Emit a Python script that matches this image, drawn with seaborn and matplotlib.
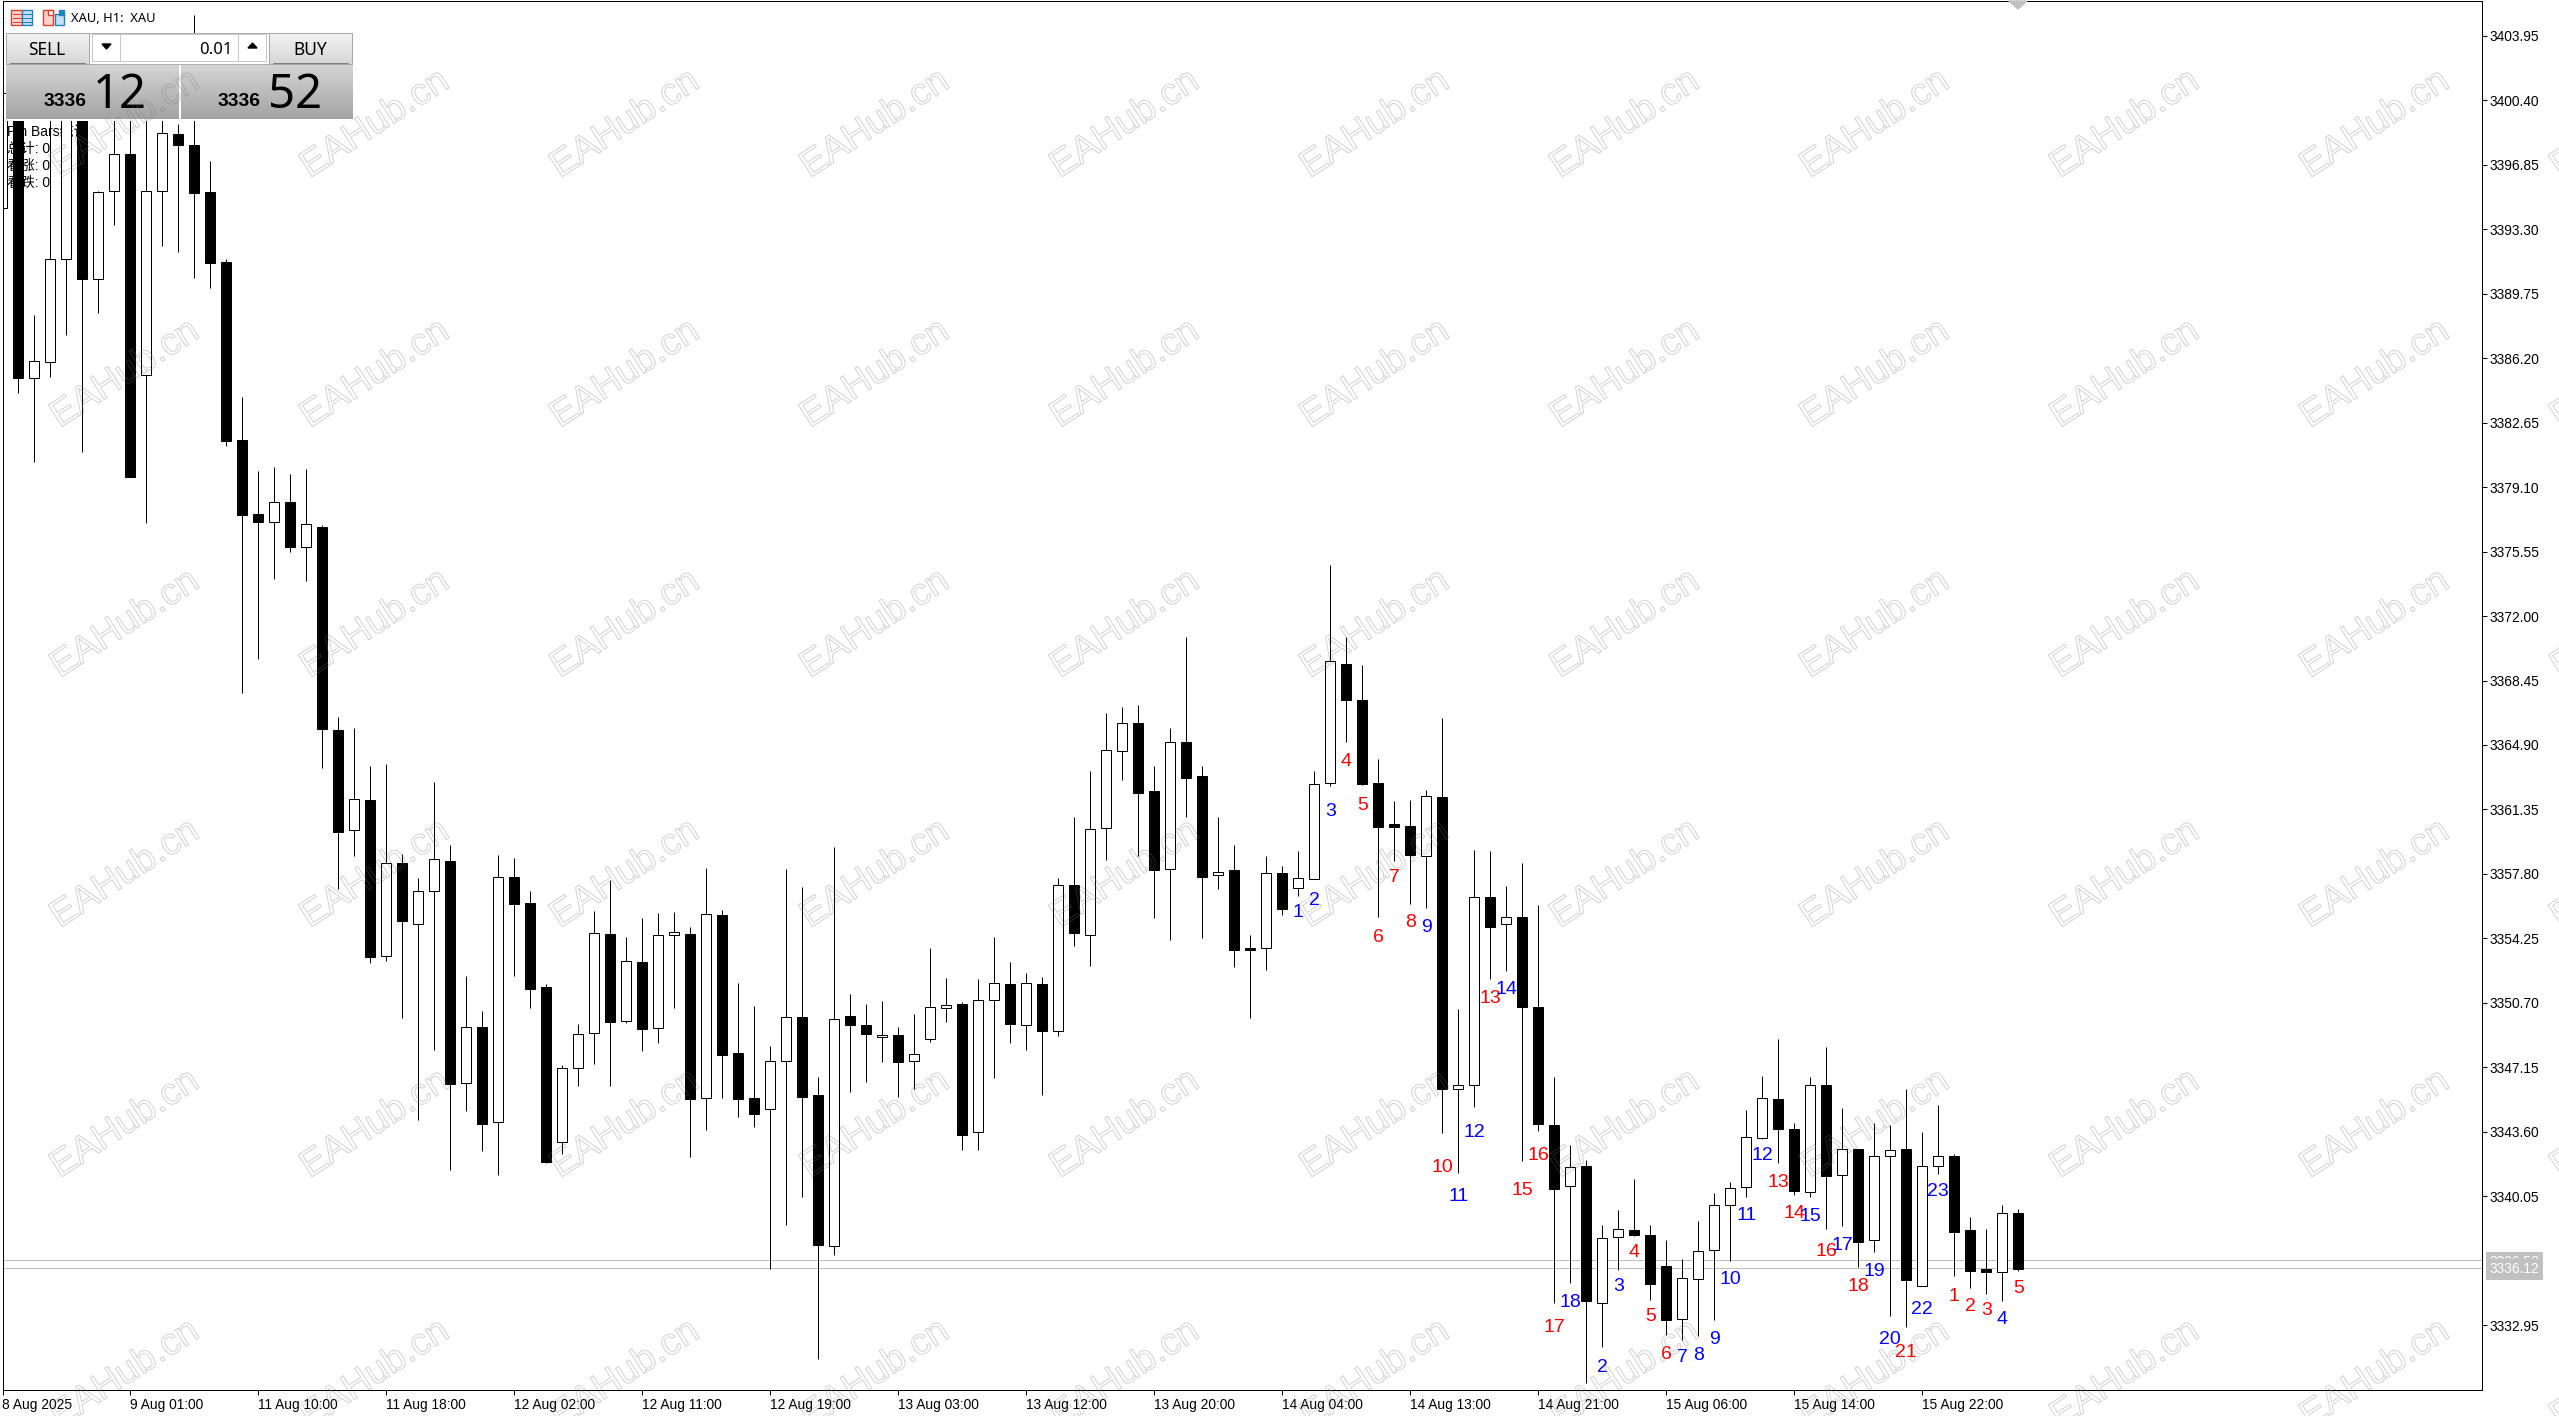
import numpy as np
import pandas as pd
import matplotlib
matplotlib.use("Agg")
import matplotlib.pyplot as plt
import matplotlib.patheffects as pe
from matplotlib.patches import Rectangle
import seaborn as sns

# H1 candles, oldest first, values
opens = [3394.47, 3400.41, 3385.09, 3386.01, 3391.64, 3399.86, 3390.58, 3395.39, 3397.44, 3385.29,
         3395.39, 3398.54, 3397.94, 3395.33, 3391.48, 3381.68, 3377.60, 3377.16, 3378.26, 3375.79,
         3376.90, 3365.73, 3360.21, 3361.87, 3353.27, 3358.41, 3355.06, 3356.85, 3358.52, 3346.28,
         3349.38, 3344.13, 3357.64, 3356.20, 3351.58, 3343.02, 3347.10, 3349.03, 3354.50, 3349.69,
         3352.96, 3349.30, 3354.43, 3354.52, 3345.45, 3355.54, 3347.94, 3345.45, 3344.84, 3347.49,
         3349.93, 3345.63, 3337.34, 3349.98, 3349.46, 3348.85, 3348.91, 3347.49, 3348.74, 3350.41,
         3350.63, 3343.57, 3350.88, 3351.75, 3349.50, 3351.74, 3349.14, 3357.18, 3354.43, 3360.32,
         3364.56, 3366.10, 3362.35, 3358.06, 3365.05, 3363.18, 3357.76, 3358.00, 3353.71, 3353.71,
         3357.84, 3357.01, 3357.51, 3362.79, 3369.35, 3367.36, 3362.79, 3360.55, 3360.44, 3358.77,
         3362.04, 3345.95, 3346.17, 3356.52, 3355.03, 3355.42, 3350.48, 3343.96, 3340.61, 3341.72,
         3334.17, 3337.80, 3338.20, 3337.92, 3336.22, 3333.32, 3335.49, 3337.08, 3339.56, 3340.55,
         3343.29, 3345.40, 3343.74, 3340.31, 3346.17, 3341.21, 3342.64, 3337.63, 3342.26, 3342.64,
         3335.10, 3341.71, 3342.26, 3338.18, 3336.05, 3335.90, 3339.12]
closes = [3400.80, 3385.13, 3386.06, 3391.64, 3399.86, 3390.58, 3395.33, 3397.42, 3379.67, 3395.39,
          3398.58, 3397.95, 3395.31, 3391.46, 3381.66, 3377.58, 3377.20, 3378.26, 3375.82, 3377.09,
          3365.80, 3360.13, 3361.91, 3353.25, 3358.39, 3355.23, 3356.85, 3358.61, 3346.25, 3349.36,
          3344.05, 3357.62, 3356.17, 3351.49, 3341.96, 3347.09, 3348.97, 3354.54, 3349.67, 3352.99,
          3349.28, 3354.43, 3354.59, 3345.43, 3355.58, 3347.85, 3345.43, 3344.60, 3347.48, 3349.91,
          3345.54, 3337.39, 3349.80, 3349.46, 3349.00, 3348.96, 3347.47, 3347.90, 3350.45, 3350.56,
          3343.44, 3350.84, 3351.77, 3349.54, 3351.77, 3349.17, 3357.18, 3354.57, 3360.26, 3364.61,
          3366.10, 3362.28, 3358.04, 3365.05, 3363.10, 3357.65, 3357.89, 3353.63, 3353.63, 3357.84,
          3355.89, 3357.56, 3362.74, 3369.51, 3367.40, 3362.77, 3360.37, 3360.40, 3358.86, 3362.08,
          3345.98, 3346.17, 3356.52, 3354.90, 3355.42, 3350.49, 3344.05, 3340.47, 3341.65, 3334.31,
          3337.74, 3338.24, 3337.94, 3335.24, 3333.26, 3335.54, 3337.03, 3339.56, 3340.50, 3343.30,
          3345.45, 3343.78, 3340.36, 3346.17, 3341.19, 3342.64, 3337.56, 3342.26, 3342.59, 3335.46,
          3341.71, 3342.26, 3338.11, 3335.96, 3335.90, 3339.12, 3336.07]
highs = [3401.79, 3400.69, 3388.58, 3399.86, 3400.41, 3400.41, 3395.42, 3399.86, 3399.86, 3399.86,
         3399.86, 3399.09, 3405.09, 3397.06, 3391.66, 3384.06, 3379.99, 3380.19, 3379.82, 3380.10,
         3377.02, 3366.43, 3365.82, 3363.75, 3363.86, 3358.88, 3357.58, 3362.85, 3359.40, 3352.18,
         3350.26, 3358.85, 3358.68, 3356.85, 3351.73, 3347.28, 3349.54, 3355.76, 3357.47, 3354.33,
         3355.36, 3355.65, 3355.71, 3354.87, 3358.13, 3355.82, 3351.80, 3350.53, 3348.33, 3358.05,
         3357.08, 3346.60, 3359.29, 3351.19, 3350.64, 3350.81, 3349.38, 3350.09, 3353.70, 3352.07,
         3350.73, 3351.99, 3354.33, 3352.96, 3352.36, 3352.13, 3357.56, 3360.94, 3363.47, 3366.66,
         3366.98, 3367.11, 3363.75, 3365.82, 3370.83, 3363.75, 3360.94, 3359.40, 3354.44, 3358.77,
         3358.22, 3359.07, 3363.47, 3374.81, 3370.83, 3369.31, 3364.12, 3361.80, 3361.86, 3362.41,
         3366.37, 3350.37, 3359.12, 3359.07, 3357.14, 3358.41, 3356.09, 3346.61, 3342.86, 3342.05,
         3338.48, 3339.30, 3341.01, 3338.48, 3337.65, 3336.60, 3338.70, 3340.24, 3340.83, 3344.81,
         3346.68, 3348.70, 3344.07, 3346.61, 3348.26, 3344.90, 3342.64, 3344.07, 3343.96, 3345.96,
         3343.60, 3345.08, 3342.37, 3338.90, 3338.26, 3339.56, 3339.34]
lows = [3394.47, 3384.30, 3380.50, 3385.18, 3387.48, 3381.05, 3388.67, 3393.53, 3379.67, 3377.11,
        3392.39, 3392.06, 3390.63, 3390.08, 3381.38, 3367.74, 3369.64, 3374.04, 3375.54, 3373.95,
        3363.65, 3356.99, 3358.81, 3352.88, 3353.03, 3349.89, 3344.26, 3348.11, 3341.50, 3344.77,
        3342.56, 3341.23, 3352.20, 3350.44, 3341.89, 3342.38, 3346.14, 3347.36, 3346.14, 3349.61,
        3348.07, 3348.51, 3350.44, 3342.23, 3343.71, 3345.48, 3344.44, 3343.89, 3336.03, 3338.48,
        3340.02, 3331.10, 3336.82, 3345.82, 3346.37, 3347.47, 3345.54, 3345.97, 3348.57, 3349.65,
        3342.62, 3342.62, 3346.57, 3348.51, 3348.12, 3345.65, 3348.90, 3353.85, 3352.75, 3358.59,
        3362.99, 3358.81, 3355.39, 3354.18, 3360.94, 3354.29, 3356.99, 3352.70, 3349.89, 3352.53,
        3355.56, 3356.61, 3357.51, 3362.66, 3365.08, 3362.72, 3355.45, 3358.53, 3356.17, 3355.94,
        3343.56, 3341.35, 3344.99, 3352.04, 3352.48, 3342.02, 3343.67, 3334.20, 3335.30, 3329.76,
        3331.78, 3336.00, 3337.89, 3334.35, 3332.42, 3332.14, 3332.38, 3333.24, 3336.51, 3340.03,
        3343.23, 3341.91, 3340.13, 3340.03, 3338.27, 3338.44, 3336.18, 3337.00, 3333.48, 3332.88,
        3335.10, 3341.30, 3335.68, 3335.02, 3334.69, 3334.31, 3335.96]

# numbers the indicator prints under the bars
count_bar = [81, 82, 83, 84, 85, 86, 87, 88, 89, 90, 91, 92, 93, 94, 95, 96, 97, 98,
             100, 101, 102, 103, 104, 105, 106, 107, 108, 109, 110, 111, 112, 113, 114, 115,
             116, 117, 118, 119, 120, 121, 122, 123, 124, 125, 126]
count_text = [1, 2, 3, 4, 5, 6, 7, 8, 9, 10, 11, 12, 13, 14, 15, 16, 17, 18,
              2, 3, 4, 5, 6, 7, 8, 9, 10, 11, 12, 13, 14, 15, 16, 17,
              18, 19, 20, 21, 22, 23, 1, 2, 3, 4, 5]
count_price = [3355.89, 3356.55, 3361.45, 3364.17, 3361.78, 3354.48, 3357.78, 3355.31, 3355.03,
               3341.80, 3340.25, 3343.74, 3351.12, 3351.65, 3340.58, 3342.46, 3332.99, 3334.39,
               3330.84, 3335.26, 3337.14, 3333.61, 3331.55, 3331.37, 3331.45, 3332.35, 3335.68,
               3339.21, 3342.46, 3341.01, 3339.30, 3339.12, 3337.21, 3337.54, 3335.30, 3336.09,
               3332.38, 3331.65, 3334.03, 3340.53, 3334.75, 3334.20, 3333.94, 3333.46, 3335.17]
count_color = list("bbbrrrrrb" "rbbrbrrrb" "bbrrrbbbb" "bbrrbrbr" "bbrbbrrrbr")

price_ticks = [3403.95, 3400.40, 3396.85, 3393.30, 3389.75, 3386.20, 3382.65, 3379.10, 3375.55, 3372.00,
               3368.45, 3364.90, 3361.35, 3357.80, 3354.25, 3350.70, 3347.15, 3343.60, 3340.05, 3332.95]
time_labels = ["8 Aug 2025", "9 Aug 01:00", "11 Aug 10:00", "11 Aug 18:00", "12 Aug 02:00", "12 Aug 11:00",
               "12 Aug 19:00", "13 Aug 03:00", "13 Aug 12:00", "13 Aug 20:00", "14 Aug 04:00", "14 Aug 13:00",
               "14 Aug 21:00", "15 Aug 06:00", "15 Aug 14:00", "15 Aug 22:00"]
time_step = 8
bid = 3336.12
ask = 3336.52
W, H = 2559, 1416
BLUE = "#0000FF"
RED = "#FF0000"
GREY = "#C0C0C0"

sns.set_theme(style="white")
plt.rcParams["font.family"] = ["Liberation Sans", "Noto Sans CJK SC", "DejaVu Sans"]

df = pd.DataFrame({"bar": np.arange(len(opens)), "open": opens, "high": highs, "low": lows, "close": closes})
df["body_low"] = df[["open", "close"]].min(axis=1)
df["body"] = (df["open"] - df["close"]).abs()
falling = df[df["close"] < df["open"]]
rising = df[df["close"] >= df["open"]]

fig = plt.figure(figsize=(W / 100, H / 100), dpi=100, facecolor="white")
ax = fig.add_axes([2.5 / W, 1 - 1390 / H, (2482 - 2.5) / W, (1390 - 1) / H], facecolor="none")
ui = fig.add_axes([0, 0, 1, 1], zorder=5, facecolor="none")

line_px = 0.72
ax.hlines([ask, bid], 0, 1, transform=ax.get_yaxis_transform(), color=GREY, linewidth=line_px, zorder=0.5)
ax.vlines(df["bar"], df["low"], df["high"], color="black", linewidth=line_px, zorder=0.9)
for part, colour in [(falling, "black"), (rising, "white")]:
    sns.barplot(data=part, x="bar", y="body", bottom=part["body_low"].to_numpy(), ax=ax, native_scale=True,
                color=colour, saturation=1, width=0.625, errorbar=None, edgecolor="black",
                linewidth=line_px, zorder=1)

for bar, text, price, c in zip(count_bar, count_text, count_price, count_color):
    ax.annotate(str(text), (bar, price), xytext=(0, -1), textcoords="offset points",
                color=BLUE if c == "b" else RED, fontsize=14,
                ha="center", va="center_baseline", zorder=3)

ax.set_xlim(0.0125, 154.98)
ax.set_ylim(3329.39, 3405.86)
ax.set_xlabel("")
ax.set_ylabel("")
ax.yaxis.tick_right()
ax.set_yticks(price_ticks)
ax.set_yticklabels(["%.2f" % p for p in price_ticks])
ax.set_xticks(range(0, time_step * len(time_labels), time_step))
ax.set_xticklabels(time_labels, ha="left")
ax.tick_params(axis="both", direction="out", length=3.6, width=line_px, labelsize=9.9, pad=1.5,
               color="black", labelcolor="black", bottom=True, right=True, left=False, top=False)
ax.tick_params(axis="x", pad=2.3)
for spine in ax.spines.values():
    spine.set_visible(True)
    spine.set_color("black")
    spine.set_linewidth(line_px)

# price tags on the scale, bid drawn over ask
for price in [ask, bid]:
    ax.text(1.0031, price, "%.2f" % price, transform=ax.get_yaxis_transform(), color="white", fontsize=9.9,
            ha="left", va="center_baseline", clip_on=False, zorder=6,
            bbox=dict(facecolor=GREY, edgecolor="none", pad=2.4))

# indicator panel text sits under the candles
info_lines = ["Pin Bars统计", "总计: 0", "看涨: 0", "看跌: 0"]
info_y = [132, 149, 166, 183]
for line, y in zip(info_lines, info_y):
    ax.text(7, y, line, transform=ui.transData, fontsize=10, color="black", va="center", ha="left", zorder=0.6)


def box(x0, y0, x1, y1, fc="white", ec="none", lw=0.72, z=1):
    ui.add_patch(Rectangle((x0, y0), x1 - x0, y1 - y0, facecolor=fc, edgecolor=ec, linewidth=lw, zorder=z))


def gradient(x0, y0, x1, y1, top, bottom):
    shades = np.linspace(top, bottom, 40).reshape(-1, 1)
    ui.imshow(shades, cmap="gray", vmin=0, vmax=1, extent=(x0, x1, y1, y0), aspect="auto", zorder=2)


# one click trading panel
box(6, 33, 354, 121)
gradient(6, 33, 89, 64, 0.95, 0.84)
gradient(269, 33, 352, 64, 0.95, 0.84)
for x0, x1 in [(6, 89), (269, 352)]:
    box(x0, 33, x1, 64, fc="none", ec="#A8A8A8", z=3)
    ui.plot([x0 + 4, x1 - 4], [63, 63], color="#808080", linewidth=0.72, zorder=3)
ui.plot([89, 270], [33, 33], color="#B0B0B0", linewidth=0.72, zorder=3)
ui.plot([89, 270], [64, 64], color="#B0B0B0", linewidth=0.72, zorder=3)
box(92, 34, 266, 61, fc="white", ec="#C8C8C8", z=3)
ui.plot([120, 120], [34, 61], color="#C8C8C8", linewidth=0.72, zorder=3)
ui.plot([238, 238], [34, 61], color="#C8C8C8", linewidth=0.72, zorder=3)
ui.fill([102, 111, 106.5], [44, 44, 49], color="black", zorder=4)
ui.fill([248, 257, 252.5], [48, 48, 43], color="black", zorder=4)
gradient(6, 65, 179, 119, 0.83, 0.64)
gradient(181, 65, 353, 119, 0.83, 0.64)
noto = ["Noto Sans", "DejaVu Sans"]
ui.text(47, 50, "SELL", family=noto, fontsize=12.5, ha="center", va="center", color="black", zorder=4)
ui.text(310, 50, "BUY", family=noto, fontsize=12.5, ha="center", va="center", color="black", zorder=4)
ui.text(232, 50, "0.01", family=noto, fontsize=12, ha="right", va="center", color="black", zorder=4)
ui.text(65.5, 101, "3336", fontsize=13.9, weight="bold", ha="center", va="center", color="black", zorder=4)
ui.text(239.5, 101, "3336", fontsize=13.9, weight="bold", ha="center", va="center", color="black", zorder=4)
ui.text(120, 96, "12", family=noto, fontsize=34, ha="center", va="center", color="black", zorder=4)
ui.text(295, 96, "52", family=noto, fontsize=34, ha="center", va="center", color="black", zorder=4)

# title strip icons
box(11, 10, 22, 25, fc="#F8D4CC", ec="#E04030", lw=1.0)
box(22, 10, 32, 25, fc="#C8E0F4", ec="#2080C0", lw=1.0)
for y in [14, 18, 22]:
    ui.plot([13, 21], [y, y], color="#E04030", linewidth=0.8, zorder=2)
    ui.plot([23, 31], [y, y], color="#2080C0", linewidth=0.8, zorder=2)
box(43, 10, 53, 25, fc="#F8D4CC", ec="#E04030", lw=1.0)
box(55, 14, 64, 25, fc="#C8E0F4", ec="#2080C0", lw=1.0)
box(48, 10, 53, 15, fc="white", ec="#E04030", lw=1.0, z=2)
box(59, 10, 64, 15, fc="#2080C0", ec="#2080C0", lw=1.0, z=2)
ui.text(71, 18, "XAU, H1:  XAU", family=noto, fontsize=9.3, ha="left", va="center", color="black", zorder=4)

# chart shift marker at the top
ui.fill([2009, 2027, 2018], [1, 1, 9], color=GREY, zorder=4)

ui.set_xlim(0, W)
ui.set_ylim(H, 0)
ui.axis("off")

# outlined watermark tiled over everything
for x in range(125, W + 100, 250):
    for y in range(124, H + 100, 250):
        fig.text(x / W, 1 - y / H, "EAHub.cn", fontsize=27, rotation=33, rotation_mode="anchor",
                 ha="center", va="center", color="none", zorder=20, clip_on=True,
                 path_effects=[pe.Stroke(linewidth=0.7, foreground=(0.45, 0.45, 0.45, 0.32))])

fig.savefig("out.png", dpi=100)
